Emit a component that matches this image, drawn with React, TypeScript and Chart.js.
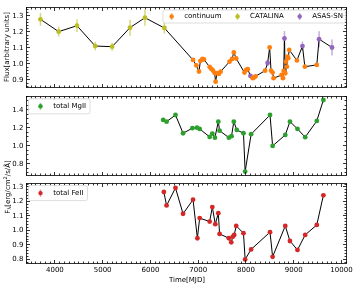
import { useEffect, useRef } from "react";
import { Chart, registerables } from "chart.js";
Chart.register(...registerables);

const FONT = "'DejaVu Sans', sans-serif";

// ---------- data ----------
const catTime = [3698, 4079, 4462, 4844, 5198, 5573, 5885, 6292];
const catFlux = [1.279, 1.202, 1.239, 1.112, 1.108, 1.227, 1.289, 1.225];
const catErr = [0.04, 0.03, 0.04, 0.027, 0.025, 0.05, 0.05, 0.035];

const contTime = [6892, 6962, 7017, 7046, 7088, 7121, 7240, 7275, 7308, 7344, 7365, 7392, 7433, 7469,
  7656, 7708, 7746, 7796, 7969, 8004, 8037, 8142, 8177, 8200, 8400, 8496, 8525, 8558, 8579,
  8746, 8775, 8790, 8823, 8838, 8856, 8871, 8885, 8906, 9067, 9233, 9483];
const contFlux = [1.025, 0.991, 0.953, 1.019, 1.031, 1.028, 0.981, 0.969, 0.959, 0.944, 0.889, 0.942, 0.938, 0.952,
  1.014, 1.031, 1.072, 1.034, 0.946, 0.963, 0.967, 0.911, 0.917, 0.923, 0.958, 1.103, 0.958, 0.946, 0.911,
  0.931, 0.911, 0.956, 0.942, 1.014, 0.983, 1.046, 1.036, 1.088, 1.022, 0.983, 0.994];
const contErr = [0.008, 0.008, 0.008, 0.008, 0.008, 0.008, 0.008, 0.008, 0.008, 0.008, 0.01, 0.008, 0.008, 0.008,
  0.008, 0.008, 0.01, 0.008, 0.008, 0.008, 0.008, 0.008, 0.008, 0.008, 0.008, 0.01, 0.008, 0.008, 0.008,
  0.008, 0.008, 0.008, 0.008, 0.008, 0.008, 0.01, 0.008, 0.01, 0.008, 0.008, 0.008];

const asasTime = [8094, 8454, 8806, 9183, 9531, 9802];
const asasFlux = [0.925, 1.006, 1.159, 1.112, 1.155, 1.103];
const asasErr = [0.015, 0.02, 0.047, 0.028, 0.05, 0.05];

const mgTime = [6267, 6338, 6525, 6683, 6879, 6975, 7031, 7240, 7296, 7350, 7421, 7448, 7642, 7698,
  7746, 7808, 7948, 7983, 8108, 8504, 8558, 8823, 8921, 9079, 9240, 9483, 9621];
const mgFlux = [1.289, 1.27, 1.344, 1.141, 1.197, 1.203, 1.189, 1.1, 1.137, 1.092, 1.27, 1.17, 1.092, 1.108,
  1.27, 1.178, 1.141, 0.714, 1.13, 1.344, 1.0, 1.122, 1.27, 1.189, 1.097, 1.278, 1.511];

const feTime = [6281, 6338, 6525, 6683, 6892, 6983, 7031, 7240, 7296, 7358, 7421, 7448, 7642, 7692,
  7725, 7754, 7796, 7948, 7983, 8108, 8504, 8558, 8823, 8921, 9079, 9240, 9483, 9621];
const feFlux = [1.265, 1.172, 1.293, 1.115, 1.212, 0.946, 1.085, 1.061, 1.161, 1.043, 1.119, 0.976, 0.946, 0.918,
  0.957, 0.969, 1.031, 0.981, 0.8, 0.869, 0.988, 0.818, 1.031, 0.927, 0.865, 0.969, 1.038, 1.242];

const xTicks = [4000, 5000, 6000, 7000, 8000, 9000, 10000];
const yTicksTop = [0.9, 1.0, 1.1, 1.2, 1.3];
const yTicksMid = [0.8, 1.0, 1.2, 1.4];
const yTicksBot = [0.8, 0.9, 1.0, 1.1, 1.2, 1.3];

const ORANGE = "#ff7f0e";
const OLIVE = "#bcbd22";
const PURPLE = "#9467bd";
const GREEN = "#2ca02c";
const RED = "#d62728";

const X_MIN = 3395;
const X_MAX = 10105;
const X_MINOR = 100;

const LINE_W = 1;
const PT_R = 2.4;

type Pt = { x: number; y: number };
const zip = (t: number[], v: number[]): Pt[] => t.map((x, i) => ({ x, y: v[i] }));

function alpha(hex: string, a: number) {
  const n = parseInt(hex.slice(1), 16);
  return `rgba(${(n >> 16) & 255},${(n >> 8) & 255},${n & 255},${a})`;
}

function tickPlugin(yMajor: number[], yMinorStep: number) {
  return {
    id: "inTicks",
    afterDatasetsDraw(chart: any) {
      const { ctx, chartArea: ca, scales } = chart;
      const xs = scales.x, ys = scales.y;
      const snap = (v: number) => Math.round(v - 0.5) + 0.5;
      const L = snap(ca.left), R = snap(ca.right), T = snap(ca.top), B = snap(ca.bottom);
      ctx.save();
      ctx.strokeStyle = "#000";
      ctx.lineWidth = 0.8;
      ctx.beginPath();
      for (let k = Math.ceil(X_MIN / X_MINOR); k * X_MINOR <= X_MAX; k++) {
        const v = k * X_MINOR;
        const major = v % 1000 === 0;
        const len = major ? 3.5 : 2;
        const px = snap(xs.getPixelForValue(v));
        ctx.moveTo(px, B); ctx.lineTo(px, B - len);
        ctx.moveTo(px, T); ctx.lineTo(px, T + len);
      }
      for (let k = Math.ceil(ys.min / yMinorStep - 1e-9); k * yMinorStep <= ys.max + 1e-9; k++) {
        const v = k * yMinorStep;
        const major = yMajor.some((m) => Math.abs(m - v) < 1e-6);
        const len = major ? 3.5 : 2;
        const py = snap(ys.getPixelForValue(v));
        ctx.moveTo(L, py); ctx.lineTo(L + len, py);
        ctx.moveTo(R, py); ctx.lineTo(R - len, py);
      }
      ctx.stroke();
      ctx.strokeRect(L, T, R - L, B - T);
      ctx.restore();
    },
  };
}

function errPlugin(items: { idx: number; errs: number[]; color: string }[]) {
  return {
    id: "errBars",
    beforeDatasetsDraw(chart: any) {
      const { ctx, chartArea: ca, scales } = chart;
      ctx.save();
      ctx.beginPath();
      ctx.rect(ca.left, ca.top, ca.right - ca.left, ca.bottom - ca.top);
      ctx.clip();
      ctx.lineWidth = 1.5;
      for (const it of items) {
        const data = chart.data.datasets[it.idx].data as Pt[];
        ctx.strokeStyle = it.color;
        ctx.beginPath();
        data.forEach((p, i) => {
          const e = it.errs[i];
          const px = scales.x.getPixelForValue(p.x);
          ctx.moveTo(px, scales.y.getPixelForValue(p.y - e));
          ctx.lineTo(px, scales.y.getPixelForValue(p.y + e));
        });
        ctx.stroke();
      }
      ctx.restore();
    },
  };
}

function legendPlugin(items: { label: string; color: string }[], anchor: "left" | "right") {
  return {
    id: "boxLegend",
    afterDraw(chart: any) {
      const { ctx, chartArea: ca } = chart;
      ctx.save();
      ctx.font = `7px ${FONT}`;
      const widths = items.map((it) => ctx.measureText(it.label).width);
      let padL: number, mToT: number, gap: number, padR: number, h: number, top: number, left: number;
      if (anchor === "right") {
        padL = 8.7; mToT = 12.5; gap = 16; padR = 2.5; h = 13; top = ca.top + 2.5;
        const total = padL + widths.reduce((a, w) => a + mToT + w, 0) + gap * (items.length - 1) + padR;
        left = ca.right - 1.5 - total;
      } else {
        padL = 12; mToT = 12.7; gap = 16; padR = 4; h = 15; top = ca.top + 1.8;
        left = ca.left + 2;
      }
      const total = padL + widths.reduce((a, w) => a + mToT + w, 0) + gap * (items.length - 1) + padR;
      ctx.fillStyle = "rgba(255,255,255,0.85)";
      ctx.strokeStyle = "#d4d4d4";
      ctx.lineWidth = 0.8;
      ctx.beginPath();
      (ctx as any).roundRect(left + 0.5, top + 0.5, total, h, 2);
      ctx.fill();
      ctx.stroke();
      const cy = top + 0.5 + h / 2;
      let x = left + 0.5 + padL;
      items.forEach((it, i) => {
        ctx.strokeStyle = alpha(it.color, 0.55);
        ctx.lineWidth = 1.5;
        ctx.beginPath();
        ctx.moveTo(x, cy - 3.5);
        ctx.lineTo(x, cy + 3.5);
        ctx.stroke();
        ctx.fillStyle = it.color;
        ctx.beginPath();
        ctx.arc(x, cy, 2.2, 0, Math.PI * 2);
        ctx.fill();
        ctx.fillStyle = "#000";
        ctx.textBaseline = "middle";
        ctx.textAlign = "left";
        ctx.fillText(it.label, x + mToT, cy);
        x += mToT + widths[i] + gap;
      });
      ctx.restore();
    },
  };
}

function textPlugin(parts: { t: string; size: number; dy: number }[], cx: number, cy: number, rotate: boolean) {
  return {
    id: "richText",
    afterDraw(chart: any) {
      const ctx = chart.ctx;
      ctx.save();
      ctx.translate(cx, cy);
      if (rotate) ctx.rotate(-Math.PI / 2);
      ctx.fillStyle = "#000";
      ctx.textBaseline = "middle";
      ctx.textAlign = "left";
      let total = 0;
      const ws = parts.map((p) => {
        ctx.font = `${p.size}px ${FONT}`;
        const w = ctx.measureText(p.t).width;
        total += w;
        return w;
      });
      let x = -total / 2;
      parts.forEach((p, i) => {
        ctx.font = `${p.size}px ${FONT}`;
        ctx.fillText(p.t, x, p.dy);
        x += ws[i];
      });
      ctx.restore();
    },
  };
}

function makeOptions(yMin: number, yMax: number, yTicks: number[], padTop: number, padBottom: number, showX: boolean) {
  return {
    responsive: false,
    animation: false as const,
    devicePixelRatio: 1,
    events: [] as any[],
    layout: { padding: { left: 0, right: 13.5, top: padTop, bottom: padBottom } },
    plugins: { legend: { display: false }, tooltip: { enabled: false } },
    scales: {
      x: {
        type: "linear" as const,
        min: X_MIN,
        max: X_MAX,
        display: showX,
        afterBuildTicks: (s: any) => { s.ticks = xTicks.map((v) => ({ value: v })); },
        afterFit: (s: any) => { s.height = showX ? 24.7 : 0; },
        grid: { display: false, drawTicks: false },
        border: { display: false },
        ticks: {
          font: { family: FONT, size: 7 }, color: "#000", padding: 2.5,
          maxRotation: 0, autoSkip: false, callback: (v: any) => String(v),
        },
      },
      y: {
        type: "linear" as const,
        min: yMin,
        max: yMax,
        afterBuildTicks: (s: any) => { s.ticks = yTicks.map((v) => ({ value: v })); },
        afterFit: (s: any) => { s.width = 26; },
        grid: { display: false, drawTicks: false },
        border: { display: false },
        ticks: {
          font: { family: FONT, size: 7 }, color: "#000", padding: 2.5,
          callback: (v: any) => Number(v).toFixed(1),
        },
      },
    },
  };
}

export default function App() {
  const r1 = useRef<HTMLCanvasElement>(null);
  const r2 = useRef<HTMLCanvasElement>(null);
  const r3 = useRef<HTMLCanvasElement>(null);

  useEffect(() => {
    const all = [...zip(catTime, catFlux), ...zip(contTime, contFlux), ...zip(asasTime, asasFlux)].sort((a, b) => a.x - b.x);

    const c1 = new Chart(r1.current!, {
      type: "scatter",
      data: {
        datasets: [
          { label: "line", data: all, showLine: true, borderColor: "#000", borderWidth: LINE_W, pointRadius: 0, order: 5 } as any,
          { label: "continuum", data: zip(contTime, contFlux), backgroundColor: ORANGE, pointRadius: PT_R, borderWidth: 0, order: 1 },
          { label: "CATALINA", data: zip(catTime, catFlux), backgroundColor: OLIVE, pointRadius: PT_R, borderWidth: 0, order: 1 },
          { label: "ASAS-SN", data: zip(asasTime, asasFlux), backgroundColor: PURPLE, pointRadius: PT_R, borderWidth: 0, order: 1 },
        ],
      },
      options: makeOptions(0.856, 1.356, yTicksTop, 7, 201, false) as any,
      plugins: [
        errPlugin([
          { idx: 1, errs: contErr, color: alpha(ORANGE, 0.55) },
          { idx: 2, errs: catErr, color: alpha(OLIVE, 0.6) },
          { idx: 3, errs: asasErr, color: alpha(PURPLE, 0.55) },
        ]),
        tickPlugin(yTicksTop, 0.02),
        legendPlugin([
          { label: "continuum", color: ORANGE },
          { label: "CATALINA", color: OLIVE },
          { label: "ASAS-SN", color: PURPLE },
        ], "right"),
        textPlugin([{ t: "Flux[arbitrary units]", size: 7, dy: 0 }], 7.5, 47, true),
      ] as any,
    });

    const c2 = new Chart(r2.current!, {
      type: "scatter",
      data: {
        datasets: [
          { label: "line", data: zip(mgTime, mgFlux), showLine: true, borderColor: "#000", borderWidth: LINE_W, pointRadius: 0, order: 5 } as any,
          { label: "total MgII", data: zip(mgTime, mgFlux), backgroundColor: GREEN, pointRadius: PT_R, borderWidth: 0, order: 1 },
        ],
      },
      options: makeOptions(0.676, 1.55, yTicksMid, 96.5, 113, false) as any,
      plugins: [
        tickPlugin(yTicksMid, 0.05),
        legendPlugin([{ label: "total MgII", color: GREEN }], "left"),
      ] as any,
    });

    const c3 = new Chart(r3.current!, {
      type: "scatter",
      data: {
        datasets: [
          { label: "line", data: zip(feTime, feFlux), showLine: true, borderColor: "#000", borderWidth: LINE_W, pointRadius: 0, order: 5 } as any,
          { label: "total FeII", data: zip(feTime, feFlux), backgroundColor: RED, pointRadius: PT_R, borderWidth: 0, order: 1 },
        ],
      },
      options: makeOptions(0.773, 1.325, yTicksBot, 183.3, 0, true) as any,
      plugins: [
        tickPlugin(yTicksBot, 0.02),
        legendPlugin([{ label: "total FeII", color: RED }], "left"),
        textPlugin([
          { t: "F", size: 7, dy: 0 },
          { t: "λ", size: 5, dy: 1.8 },
          { t: "[erg/cm", size: 7, dy: 0 },
          { t: "2", size: 5, dy: -2.2 },
          { t: "/s/Å]", size: 7, dy: 0 },
        ], 7.8, 187, true),
        textPlugin([{ t: "Time[MJD]", size: 7, dy: 0 }], 187, 280.5, false),
      ] as any,
    });

    return () => {
      c1.destroy();
      c2.destroy();
      c3.destroy();
    };
  }, []);

  const cs: any = { position: "absolute", left: 0, top: 0, width: 360, height: 288 };
  return (
    <div style={{ position: "absolute", left: 0, top: 0, width: 360, height: 288, background: "#fff" }}>
      <canvas ref={r1} width={360} height={288} style={cs} />
      <canvas ref={r2} width={360} height={288} style={cs} />
      <canvas ref={r3} width={360} height={288} style={cs} />
    </div>
  );
}
